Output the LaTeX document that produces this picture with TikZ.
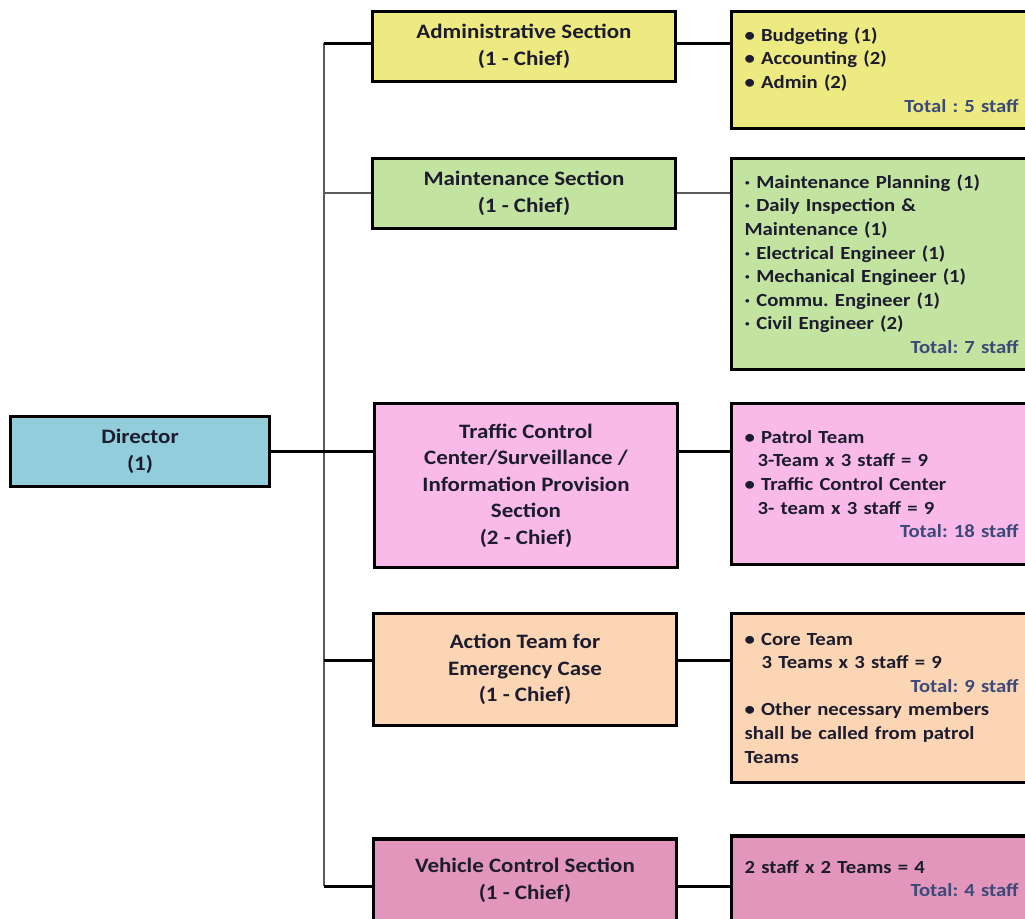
\documentclass[tikz,border=0pt]{standalone}
\usepackage{fontspec}
\setmainfont{Carlito}[FakeStretch=1.12]
\frenchspacing
\definecolor{dirc}{HTML}{92CDDC}
\definecolor{admc}{HTML}{EEEA82}
\definecolor{mntc}{HTML}{C3E3A0}
\definecolor{trfc}{HTML}{F9BAEA}
\definecolor{actc}{HTML}{FCD5B4}
\definecolor{vehc}{HTML}{E396BC}
\definecolor{txtc}{HTML}{1C1C2E}
\definecolor{totc}{HTML}{3B4A78}
\definecolor{trunkc}{HTML}{5A5A5A}
\tikzset{
  box/.style={draw=black, line width=3.2pt, rectangle, inner sep=2pt, text=txtc},
  secbox/.style={box, minimum width=303pt, align=center, font=\bfseries\fontsize{20.5}{26.5}\selectfont},
  detbox/.style={box, anchor=west, text width=274pt, inner xsep=13.5pt, align=left, font=\bfseries\fontsize{18.5}{23.6}\selectfont\frenchspacing},
  thickcon/.style={draw=black, line width=3pt},
  thincon/.style={draw=trunkc, line width=2pt},
}
\newcommand{\tot}[1]{\hfill{\color{totc}#1}}
\begin{document}
\begin{tikzpicture}[x=1pt,y=-1pt]
\useasboundingbox (0,0) rectangle (1025,918);
\clip (0,0) rectangle (1025,918);
% junction coordinates on the trunk
\coordinate (jA) at (324,43);
\coordinate (jM) at (324,193);
\coordinate (jT) at (324,451);
\coordinate (jE) at (324,660);
\coordinate (jV) at (324,886);
% section boxes
\node[box, fill=dirc, minimum width=259pt, minimum height=70pt, align=center, font=\bfseries\fontsize{20.5}{26.5}\selectfont] (dir) at (140,451.5) {Director\\(1)};
\node[secbox, fill=admc, minimum height=70pt] (adm) at (524,46.5) {Administrative Section\\(1 - Chief)};
\node[secbox, fill=mntc, minimum height=70pt] (mnt) at (524,193.5) {Maintenance Section\\(1 - Chief)};
\node[secbox, fill=trfc, minimum height=164pt] (trf) at (526,485.5) {Traffic Control\\Center/Surveillance /\\Information Provision\\Section\\(2 - Chief)};
\node[secbox, fill=actc, minimum height=112pt] (act) at (525,669.5) {Action Team for\\Emergency Case\\(1 - Chief)};
\node[secbox, fill=vehc, minimum height=83pt] (veh) at (525,880.5) {Vehicle Control Section\\(1 - Chief)};
% detail boxes
\node[detbox, fill=admc, minimum height=117pt] (admD) at (729.5,70) {%
• Budgeting (1)\\
• Accounting (2)\\
• Admin (2)\\
\tot{Total : 5 staff}};
\node[detbox, fill=mntc, minimum height=211pt] (mntD) at (729.5,264) {%
· Maintenance Planning (1)\\
· Daily Inspection \&\\
Maintenance (1)\\
· Electrical Engineer (1)\\
· Mechanical Engineer (1)\\
· Commu. Engineer (1)\\
· Civil Engineer (2)\\
\tot{Total: 7 staff}};
\node[detbox, fill=trfc, minimum height=161pt] (trfD) at (729.5,484) {%
• Patrol Team\\
\hspace*{13pt}3-Team x 3 staff = 9\\
• Traffic Control Center\\
\hspace*{13pt}3- team x 3 staff = 9\\
\tot{Total: 18 staff}};
\node[detbox, fill=actc, minimum height=169pt] (actD) at (729.5,698) {%
• Core Team\\
\hspace*{17pt}3 Teams x 3 staff = 9\\
\tot{Total: 9 staff}\\
• Other necessary members\\
shall be called from patrol\\
Teams};
\node[detbox, fill=vehc, minimum height=85pt] (vehD) at (729.5,878.5) {%
2 staff x 2 Teams = 4\\
\tot{Total: 4 staff}};
% connectors
\draw[thincon] (jA) -- (jV);
\draw[thickcon] (dir.east |- jT) -- (jT);
\draw[thickcon] (jT) -- (jT -| trf.west);
\draw[thickcon] (jA) -- (jA -| adm.west);
\draw[thincon] (jM) -- (jM -| mnt.west);
\draw[thickcon] (jE) -- (jE -| act.west);
\draw[thickcon] (jV) -- (jV -| veh.west);
\draw[thickcon] (jA -| adm.east) -- (jA -| admD.west);
\draw[thincon] (jM -| mnt.east) -- (jM -| mntD.west);
\draw[thickcon] (jT -| trf.east) -- (jT -| trfD.west);
\draw[thickcon] (jE -| act.east) -- (jE -| actD.west);
\draw[thickcon] (jV -| veh.east) -- (jV -| vehD.west);
\end{tikzpicture}
\end{document}
